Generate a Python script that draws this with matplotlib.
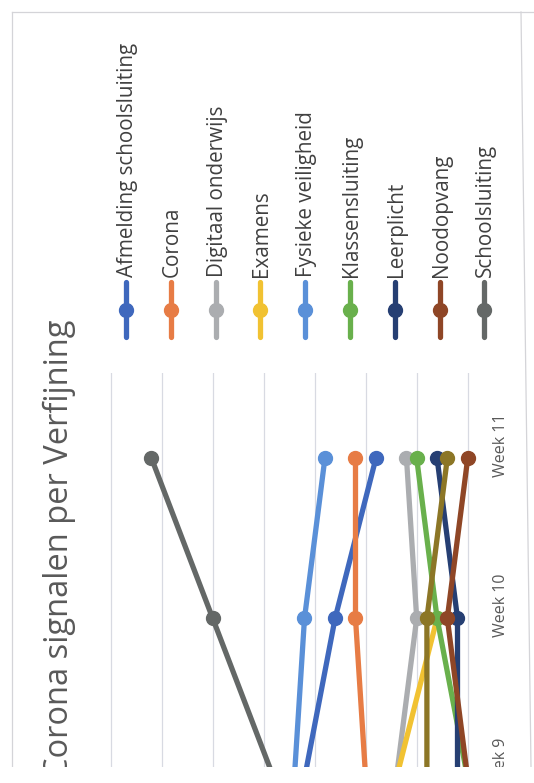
import numpy as np
import matplotlib
matplotlib.use("Agg")
import matplotlib.pyplot as plt
from matplotlib.lines import Line2D
from matplotlib.patches import Rectangle
from matplotlib.transforms import blended_transform_factory

# ---------------- data ----------------
weeks = [9, 10, 11]
week_labels = ["Week 9", "Week 10", "Week 11"]
title = "Corona signalen per Verfijning"

series_names = ["Afmelding schoolsluiting", "Corona", "Digitaal onderwijs", "Examens",
                "Fysieke veiligheid", "Klassensluiting", "Leerplicht", "Noodopvang",
                "Schoolsluiting"]
afmelding = [16, 13, 9]
corona = [10, 11, 11]
digitaal = [7, 5, 6]
examens = [7, 3, np.nan]
fysieke = [17, 16, 14]
klassensluiting = [0, 3, 5]
leerplicht = [1, 1, 3]
noodopvang = [0, 2, 0]
schoolsluiting = [19, 25, 31]
overig = [4, 4, 2]          # 10th series (its legend entry is cut off)

series_values = [afmelding, corona, digitaal, examens, fysieke, klassensluiting,
                 leerplicht, noodopvang, schoolsluiting, overig]
colors = ["#3f68bd", "#e77c45", "#abadb0", "#f1c232", "#5a90d8", "#69b04c",
          "#263f73", "#8f4626", "#646867", "#8c7626"]

# ---------------- figure ----------------
W, H = 534, 783
fig = plt.figure(figsize=(W / 100, H / 100), dpi=100)
fig.patch.set_facecolor("white")
FONT = "Open Sans"


def fx(x):
    return x / W


def fy(y):
    return 1 - y / H


# plot area (chart is rotated 90 degrees: values run right->left, weeks bottom->top)
ax_l, ax_r, ax_t, ax_b = 100, 480, 373, 767
ax = fig.add_axes([fx(ax_l), fy(ax_b), (ax_r - ax_l) / W, (ax_b - ax_t) / H])
px_per_unit = 10.2
zero_x = 467.7
ax.set_xlim((zero_x - ax_l) / px_per_unit, (zero_x - ax_r) / px_per_unit)
wk_px = 160.0
wk11_y = 458.3
ax.set_ylim(11 - (ax_b - wk11_y) / wk_px, 11 + (wk11_y - ax_t) / wk_px)

ax.set_xticks(np.arange(0, 36, 5))
ax.set_yticks([])
ax.grid(axis="x", color="#d8dae2", lw=0.9)
ax.tick_params(length=0, labelbottom=False, labelleft=False)
for s in ax.spines.values():
    s.set_visible(False)
ax.set_axisbelow(True)

for vals, c in zip(series_values, colors):
    ax.plot(vals, weeks, color=c, lw=3.8, marker="o", ms=10, solid_capstyle="round")

# week labels (rotated)
tr = blended_transform_factory(ax.transAxes, ax.transData)
for w, lab in zip(weeks, week_labels):
    ax.text((501 - ax_l) / (ax_r - ax_l), w + 13 / wk_px, lab, transform=tr,
            rotation=90, ha="center", va="center", fontsize=11.5, color="#595959",
            family=FONT, clip_on=False)

# title (rotated)
fig.text(fx(59), fy(778), title, rotation=90, rotation_mode="anchor",
         ha="left", va="center", fontsize=23.5, color="#595959", family=FONT)

# legend (rotated, built by hand)
for i, (name, c) in enumerate(zip(series_names, colors)):
    x = 126 + i * 44.8
    fig.add_artist(Line2D([fx(x), fx(x)], [fy(337), fy(282)], color=c, lw=3.8,
                          solid_capstyle="round"))
    fig.add_artist(Line2D([fx(x)], [fy(309.5)], color=c, marker="o", ms=10))
    fig.text(fx(x + 1.5), fy(277), name, rotation=90, rotation_mode="anchor",
             ha="left", va="center", fontsize=14.9, color="#404040", family=FONT)

# faint frame of the scanned chart
fc = "#d4d4d8"
fig.add_artist(Line2D([fx(12), fx(534)], [fy(12), fy(12)], color=fc, lw=0.9))
fig.add_artist(Line2D([fx(12), fx(12)], [fy(12), fy(767)], color=fc, lw=0.9))
fig.add_artist(Line2D([fx(521), fx(531)], [fy(12), fy(767)], color=fc, lw=0.9))

# the scan is cut off at the bottom
fig.add_artist(Rectangle((0, 0), 1, fy(767), transform=fig.transFigure,
                         facecolor="white", edgecolor="none", zorder=100))

fig.savefig("out.png", dpi=100, facecolor="white")
